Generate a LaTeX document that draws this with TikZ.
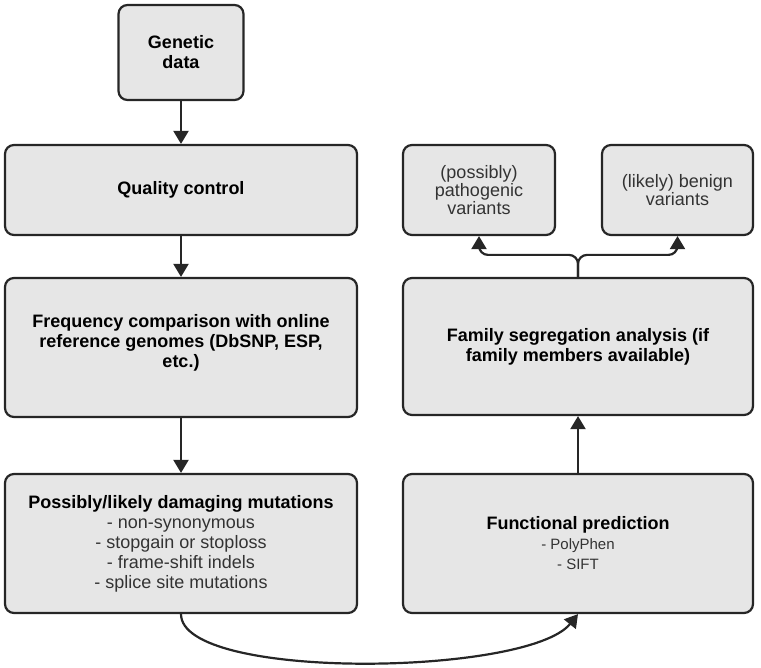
\documentclass[tikz,border=0pt]{standalone}
\usepackage{fontspec}
\setmainfont{Liberation Sans}
\usepackage{tikz}
\usetikzlibrary{arrows.meta, positioning}
\tikzset{>={Triangle[width=15pt,length=13pt]}}
\definecolor{boxgray}{HTML}{E6E6E6}
\definecolor{edgegray}{HTML}{262626}
\definecolor{textgray}{HTML}{333333}
\tikzset{
  flowbox/.style={draw=edgegray, fill=boxgray, line width=2.2pt, rounded corners=9pt, align=center, inner sep=0pt, text=black, font=\fontsize{18}{20}\selectfont\bfseries},
  link/.style={draw=edgegray, line width=2.2pt, ->},
}
\newcommand{\itemline}{\mdseries\color{textgray}}

\begin{document}
\begin{tikzpicture}[x=1pt,y=-1pt]
			\useasboundingbox (0,0) rectangle (761,668);
			% left column
			\node[flowbox, minimum width=125pt, minimum height=95pt] (gen) at (181,52.5) {Genetic\\data};
			\node[flowbox, minimum width=352pt, minimum height=90pt] (qc) at (181,190) {Quality control};
			\node[flowbox, minimum width=352pt, minimum height=139pt] (freq) at (181,347.5) {Frequency comparison with online\\reference genomes (DbSNP, ESP,\\etc.)\\[-6pt]\mbox{}};
			\node[flowbox, minimum width=352pt, minimum height=139pt] (mut) at (181,543.5) {Possibly/likely damaging mutations\\\itemline - non-synonymous\\\itemline - stopgain or stoploss\\\itemline - frame-shift indels\\\itemline - splice site mutations};
			% right column
			\node[flowbox, minimum width=350pt, minimum height=139pt] (fun) at (578,543.5) {Functional prediction\\\itemline\fontsize{15}{16}\selectfont - PolyPhen\\\itemline\fontsize{15}{16}\selectfont - SIFT};
			\node[flowbox, minimum width=350pt, minimum height=137pt] (fam) at (578,346.5) {Family segregation analysis (if\\family members available)};
			\node[flowbox, minimum width=152pt, minimum height=90pt, font=\fontsize{18}{16.5}\selectfont, text=textgray] (pat) at (479,190) {(possibly)\\pathogenic\\variants};
			\node[flowbox, minimum width=151pt, minimum height=90pt, font=\fontsize{18}{16.5}\selectfont, text=textgray] (ben) at (677.5,190) {(likely) benign\\variants};
			% connectors
			\draw[link] (gen) -- (qc);
			\draw[link] (qc) -- (freq);
			\draw[link] (freq) -- (mut);
			\draw[link] (mut.south) .. controls +(0,67) and +(-50,62) .. (fun.south);
			\draw[link] (fun) -- (fam);
			\draw[link, rounded corners=9pt] (fam.north) -- ++(0,-22) -| (pat.south);
			\draw[link, rounded corners=9pt] (fam.north) -- ++(0,-22) -| (ben.south);
		\end{tikzpicture}
\end{document}
